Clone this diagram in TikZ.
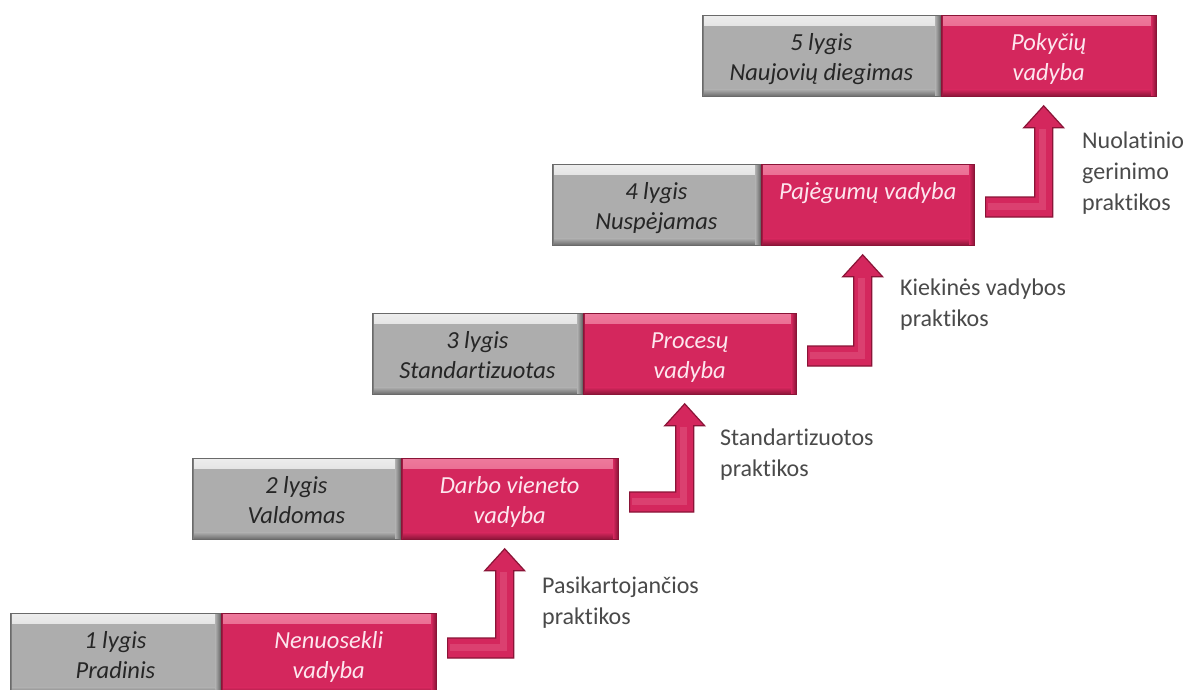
\documentclass[tikz,border=0pt]{standalone}
\usepackage{fontspec}
\setmainfont{Carlito}[Ligatures=NoCommon]
\usetikzlibrary{calc}

\definecolor{grayface}{HTML}{ADADAD}
\definecolor{grayhi}{HTML}{EDEDED}
\definecolor{graydark}{HTML}{6A6A6A}
\definecolor{pinkface}{HTML}{D4275D}
\definecolor{pinkhi}{HTML}{EE7A9C}
\definecolor{pinkdark}{HTML}{8A1437}
\definecolor{graytext}{HTML}{262626}
\definecolor{pinktext}{HTML}{FDE6EE}
\definecolor{labeltext}{HTML}{4A4A4A}

% struts that fix the line positions inside boxes and labels
\newcommand\rowstrut{\rule[-5.5pt]{0pt}{30pt}}
\newcommand\lblstrut{\rule[-8pt]{0pt}{31pt}}

% bevelled face: light band on top, dark bands at the bottom and the right
\newcommand\boxbevel[3]{%
  \shade[top color=#1, bottom color=#2]
    ([yshift=-1.5pt]path picture bounding box.north west) rectangle
    ([yshift=-10pt]path picture bounding box.north east);
  \shade[top color=#2, bottom color=#3]
    ([yshift=7pt]path picture bounding box.south west) rectangle
    (path picture bounding box.south east);
  \shade[left color=#2, right color=#3]
    ([xshift=-5pt]path picture bounding box.north east) rectangle
    (path picture bounding box.south east);
  \fill[#3!70!#2] (path picture bounding box.north west) rectangle
    ([xshift=2pt]path picture bounding box.south west);
}

% bent step arrow from beside a lower box up to the box of the next level
\newcommand\stairarrow[3]{%
  \path[risearrow] let \p1=(#1.north east), \p2=(#2.south) in
    (\x1+11pt,\y1-#3) -- (\x2-14pt,\y1-#3) -- (\x2-14pt,\y2-31pt)
    -- (\x2-25pt,\y2-31pt) -- (\x2-5pt,\y2-9pt) -- (\x2+15pt,\y2-31pt)
    -- (\x2+4pt,\y2-31pt) -- (\x2+4pt,\y1-#3-20pt) -- (\x1+11pt,\y1-#3-20pt)
    -- cycle;
  \path[ridge] let \p1=(#1.north east), \p2=(#2.south) in
    (\x1+13pt,\y1-#3-9pt) -- (\x2-6pt,\y1-#3-9pt) -- (\x2-6pt,\y2-32pt);
}

\tikzset{
  levelbox/.style={rectangle, inner sep=0pt, minimum height=81pt,
    anchor=north west, align=center,
    font=\itshape\fontsize{24.5}{30}\selectfont},
  graybox/.style={levelbox, fill=grayface, text=graytext,
    draw=graydark, line width=0.8pt,
    path picture={\boxbevel{grayhi}{grayface}{graydark}}},
  pinkbox/.style={levelbox, fill=pinkface, text=pinktext,
    draw=pinkdark, line width=0.8pt,
    path picture={\boxbevel{pinkhi}{pinkface}{pinkdark}}},
  risearrow/.style={fill=pinkface, draw=pinkdark, line width=1.2pt,
    line join=miter},
  ridge/.style={draw=pinkhi, line width=7pt, opacity=0.3},
  practice/.style={inner sep=0pt, anchor=north west, align=left,
    text=labeltext, font=\fontsize{24}{31}\selectfont}
}

\begin{document}
\begin{tikzpicture}[x=1pt, y=-1pt]
\useasboundingbox[fill=white] (0,0) rectangle (1184,689);

% level boxes
\node[graybox, minimum width=210pt] (g1) at (10,613)
  {\rowstrut 1 lygis\\\rowstrut Pradinis};
\node[pinkbox, minimum width=215pt] (p1) at (g1.north east)
  {\rowstrut Nenuosekli\\\rowstrut vadyba};

\node[graybox, minimum width=208pt] (g2) at (192,458)
  {\rowstrut 2 lygis\\\rowstrut Valdomas};
\node[pinkbox, minimum width=217pt] (p2) at (g2.north east)
  {\rowstrut Darbo vieneto\\\rowstrut vadyba};

\node[graybox, minimum width=210pt] (g3) at (372,313)
  {\rowstrut 3 lygis\\\rowstrut Standartizuotas};
\node[pinkbox, minimum width=213pt] (p3) at (g3.north east)
  {\rowstrut Procesų\\\rowstrut vadyba};

\node[graybox, minimum width=208pt] (g4) at (552,164)
  {\rowstrut 4 lygis\\\rowstrut Nuspėjamas};
\node[pinkbox, minimum width=213pt] (p4) at (g4.north east)
  {\rowstrut Pajėgumų vadyba\\\rowstrut};

\node[graybox, minimum width=238pt] (g5) at (702,15)
  {\rowstrut 5 lygis\\\rowstrut Naujovių diegimas};
\node[pinkbox, minimum width=215pt] (p5) at (g5.north east)
  {\rowstrut Pokyčių\\\rowstrut vadyba};

% step arrows between levels
\stairarrow{p1}{p2}{25pt}
\stairarrow{p2}{p3}{34pt}
\stairarrow{p3}{p4}{33pt}
\stairarrow{p4}{p5}{33pt}

% practice labels
\node[practice] (t1) at (542,570)
  {\lblstrut Pasikartojančios\\\lblstrut praktikos};
\node[practice] (t2) at (720,422)
  {\lblstrut Standartizuotos\\\lblstrut praktikos};
\node[practice] (t3) at (900,272)
  {\lblstrut Kiekinės vadybos\\\lblstrut praktikos};
\node[practice] (t4) at (1082,125)
  {\lblstrut Nuolatinio\\\lblstrut gerinimo\\\lblstrut praktikos};
\end{tikzpicture}
\end{document}
